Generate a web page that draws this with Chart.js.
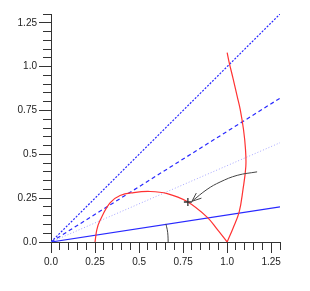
<!DOCTYPE html>
<html>
<head>
<meta charset="utf-8">
<script src="https://cdn.jsdelivr.net/npm/chart.js@4"></script>
<style>
  html, body { margin: 0; padding: 0; background: #fff; }
  #wrap { width: 310px; height: 291px; }
</style>
</head>
<body>
<div id="wrap"><canvas id="chart" width="310" height="291"></canvas></div>
<script>
  // tick labels
  const tickLabels = { 0: '0.0', 0.25: '0.25', 0.5: '0.5', 0.75: '0.75', 1: '1.0', 1.25: '1.25' };

  // rays from origin (end points at x = 1.3)
  const raySolid = [[0, 0], [1.3, 0.20]];
  const rayDotted = [[0, 0], [1.3, 0.566]];
  const rayDashLow = [[0, 0], [1.3, 0.82]];
  const rayDashHigh = [[0, 0], [1.3, 1.3]];

  // red curves
  const redArc = [
    [0.25, 0], [0.26, 0.069], [0.278, 0.122], [0.335, 0.223], [0.392, 0.265],
    [0.47, 0.282], [0.5625, 0.288], [0.66, 0.276], [0.77, 0.232], [0.886, 0.142],
    [0.945, 0.07], [1.0, 0]
  ];
  const redRise = [
    [1.0, 0], [1.034, 0.08], [1.068, 0.17], [1.09, 0.30], [1.106, 0.43],
    [1.104, 0.53], [1.093, 0.64], [1.074, 0.756], [1.057, 0.83], [1.034, 0.93],
    [1.011, 1.026], [1.0, 1.08]
  ];

  // arrow, marker, angle arc
  const arrowShaft = [[1.17, 0.40], [1.057, 0.38], [0.96, 0.342], [0.886, 0.30], [0.80, 0.232]];
  const arrowHead = [[0.825, 0.279], [0.80, 0.232], [0.854, 0.250]];
  const marker = [[0.777, 0.228]];
  const angleArc = [[0.652, 0.103], [0.66, 0.07], [0.664, 0.035], [0.665, 0]];

  const pts = arr => arr.map(p => ({ x: p[0], y: p[1] }));

  function line(data, color, dash, width) {
    return {
      data: pts(data), showLine: true, borderColor: color, borderWidth: width || 1,
      borderDash: dash || [], pointRadius: 0, tension: 0, fill: false
    };
  }

  const isMajor = v => Math.abs(v / 0.25 - Math.round(v / 0.25)) < 1e-6;
  const keyOf = v => Math.round(v * 100) / 100;

  const font = { family: 'Liberation Sans, Arial, sans-serif', size: 10 };

  const chart = new Chart(document.getElementById('chart'), {
    type: 'scatter',
    data: {
      datasets: [
        { data: pts(marker), pointStyle: 'cross', pointRadius: 4, borderColor: '#333', borderWidth: 1.3, showLine: false },
        line(arrowHead, '#444'),
        Object.assign(line(arrowShaft, '#444'), { tension: 0.4 }),
        Object.assign(line(angleArc, '#444'), { tension: 0.4 }),
        Object.assign(line(redArc, 'rgb(255,50,50)', [], 1.2), { tension: 0.4 }),
        Object.assign(line(redRise, 'rgb(255,50,50)', [], 1.2), { tension: 0.4 }),
        line(raySolid, 'rgb(40,40,255)', [], 1.2),
        line(rayDotted, 'rgb(165,165,255)', [1, 2]),
        line(rayDashLow, 'rgb(40,40,255)', [4, 3], 1.2),
        line(rayDashHigh, 'rgb(40,40,255)', [2, 1.5], 1.2)
      ]
    },
    options: {
      responsive: false,
      animation: false,
      layout: { padding: { left: 0, right: 30, top: 14, bottom: 19 } },
      plugins: { legend: { display: false }, tooltip: { enabled: false } },
      scales: {
        x: {
          type: 'linear', min: 0, max: 1.3,
          afterFit: s => { s.height = 30; },
          border: { display: true, color: '#333', width: 1 },
          grid: {
            drawOnChartArea: false, drawTicks: true, tickLength: 11, tickColor: '#333',
            tickBorderDash: c => isMajor(c.tick.value) ? [] : [7, 20]
          },
          ticks: {
            stepSize: 0.05, autoSkip: false, maxRotation: 0, minRotation: 0,
            padding: 3, color: '#222', font: font,
            callback: v => isMajor(v) ? tickLabels[keyOf(v)] : ''
          }
        },
        y: {
          type: 'linear', min: 0, max: 1.3,
          afterFit: s => { s.width = 51; },
          border: { display: true, color: '#333', width: 1 },
          grid: {
            drawOnChartArea: false, drawTicks: true, tickLength: 12, tickColor: '#333',
            tickBorderDash: c => isMajor(c.tick.value) ? [] : [8, 4],
            tickBorderDashOffset: c => isMajor(c.tick.value) ? 0 : 8
          },
          ticks: {
            stepSize: 0.05, autoSkip: false, padding: 2, color: '#222', font: font,
            callback: v => isMajor(v) ? tickLabels[keyOf(v)] : ''
          }
        }
      }
    }
  });
</script>
</body>
</html>
